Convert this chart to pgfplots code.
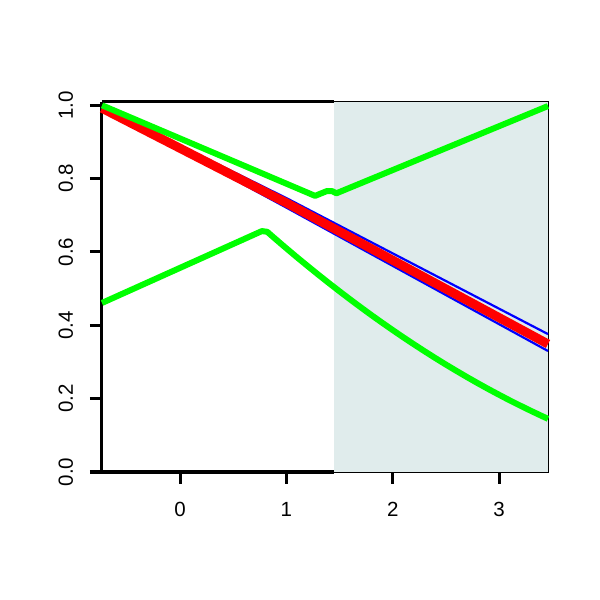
\documentclass[border=0pt]{standalone}
\usepackage{fontspec}
\setmainfont{Liberation Sans}
\usepackage{pgfplots}
\pgfplotsset{compat=1.18}
\definecolor{shadebg}{RGB}{224,236,236}
\begin{document}
\begin{tikzpicture}
\useasboundingbox (-102bp,-128bp) rectangle (498bp,472bp);
\begin{axis}[
  scale only axis, width=446bp, height=370bp,
  xmin=-0.7335, xmax=3.46, ymin=0, ymax=1.009,
  axis line style={draw=none},
  clip=false,
  xtick={0,1,2,3}, xticklabels={0,1,2,3},
  ytick={0,0.2,0.4,0.6,0.8,1.0}, yticklabels={0.0,0.2,0.4,0.6,0.8,1.0},
  tick pos=left, tick align=outside,
  major tick length=12bp,
  major tick style={black, line width=3bp},
  /pgf/number format/assume math mode=true,
  tick label style={font=\fontsize{20.5bp}{23bp}\selectfont},
  xticklabel style={anchor=base, inner sep=0pt, yshift=-33bp},
  yticklabel style={xshift=-17bp, rotate=90, anchor=base, inner sep=0pt},
]
\draw[line width=3bp] (axis cs:-0.7335,0) -- (axis cs:-0.7335,1.009);
\draw[line width=3bp] (axis cs:-0.7335,1.009) -- (axis cs:1.449,1.009);
\draw[line width=3bp] (axis cs:-0.7335,0) -- (axis cs:1.449,0);
\fill[shadebg] (axis cs:1.449,0) rectangle (axis cs:3.46,1.009);
\draw[line width=1bp] (axis cs:1.449,1.009) -- (axis cs:3.46,1.009) -- (axis cs:3.46,0) -- (axis cs:1.449,0);

% blue band
\addplot[blue, line width=2.2bp, no markers] coordinates {
(-0.7335,0.995) (1,0.747) (3.46,0.376)};
\addplot[blue, line width=2.2bp, no markers] coordinates {
(-0.7335,0.993) (1,0.721) (3.46,0.330)};
% red
\addplot[red, line width=9bp, no markers] coordinates {
(-0.7335,0.992) (1,0.734) (3.46,0.349)};
% green upper
\addplot[green, line width=6bp, no markers, line join=round] coordinates {
(-0.7335,1.0) (1.27,0.753) (1.38,0.766) (1.43,0.766) (1.47,0.760) (3.46,0.998)};
% green lower
\addplot[green, line width=6bp, no markers, line join=round] coordinates {
(-0.7335,0.461) (0.77,0.657) (0.82,0.655) (0.9,0.6348) (1.0,0.6099) (1.1,0.5855)
(1.2,0.5617) (1.3,0.5382) (1.4,0.5152) (1.5,0.4927) (1.6,0.4706) (1.7,0.4490)
(1.8,0.4278) (1.9,0.4072) (2.0,0.387) (2.1,0.3672) (2.2,0.3480) (2.3,0.3292)
(2.4,0.3108) (2.5,0.2929) (2.6,0.2756) (2.7,0.2586) (2.8,0.2421) (2.9,0.2261)
(3.0,0.2106) (3.1,0.1954) (3.2,0.1809) (3.3,0.1667) (3.4,0.1530) (3.46,0.145)};
\end{axis}
\end{tikzpicture}
\end{document}
